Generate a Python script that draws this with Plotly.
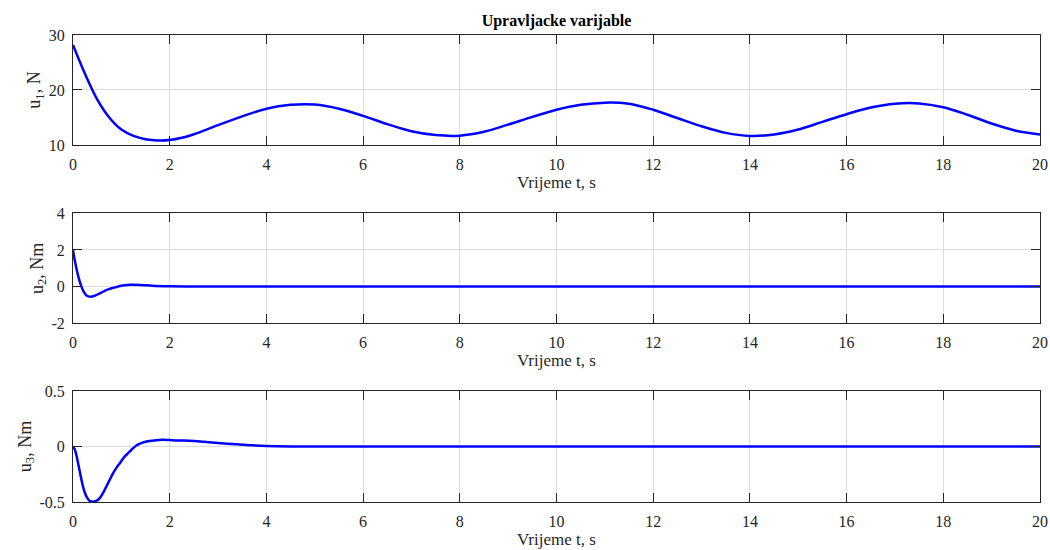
import plotly.graph_objects as go
from plotly.subplots import make_subplots

# ---- data ----
t_u1 = [0, 0.25, 0.5, 0.75, 1.0, 1.25, 1.5, 1.75, 2.0, 2.25, 2.5, 2.75, 3.0, 3.5, 4.0,
        4.5, 5.0, 5.5, 6.0, 6.5, 7.0, 7.5, 8.0, 8.5, 9.0, 9.5, 10.0, 10.5, 11.0, 11.5, 12.0, 12.5,
        13.0, 13.5, 14.0, 14.5, 15.0, 15.5, 16.0, 16.5, 17.0, 17.5, 18.0, 18.5, 19.0, 19.5, 20.0]
u1 = [28.2, 22.9, 18.3, 15.0, 12.8, 11.65, 11.05, 10.82, 10.9, 11.3, 11.95, 12.75, 13.6,
      15.2, 16.6, 17.3, 17.35, 16.6, 15.3, 13.8, 12.5, 11.8, 11.7, 12.4, 13.7, 15.1, 16.4,
      17.3, 17.7, 17.5, 16.4, 14.9, 13.4, 12.2, 11.65, 11.9, 12.8, 14.2, 15.6, 16.8, 17.5, 17.55,
      16.85, 15.5, 13.9, 12.6, 11.9]

t_u2 = [0, 0.035, 0.07, 0.105, 0.14, 0.175, 0.21, 0.245, 0.28, 0.32, 0.36, 0.45, 0.53, 0.62,
        0.7, 0.8, 0.9, 0.97, 1.07, 1.17, 1.4, 1.64, 2.0, 2.5, 3.0, 5.0, 10.0, 15.0, 20.0]
u2 = [2.0, 1.45, 1.0, 0.6, 0.27, 0.0, -0.22, -0.38, -0.48, -0.53, -0.55, -0.5, -0.4, -0.28,
      -0.18, -0.09, -0.02, 0.03, 0.08, 0.1, 0.09, 0.05, 0.02, 0.005, 0.0, 0.0, 0.0, 0.0, 0.0]

t_u3 = [0, 0.035, 0.07, 0.105, 0.14, 0.19, 0.24, 0.29, 0.34, 0.41, 0.48, 0.55, 0.62, 0.69, 0.76,
        0.83, 0.9, 0.97, 1.05, 1.14, 1.22, 1.31, 1.41, 1.52, 1.68, 1.86, 2.0, 2.3, 2.69, 3.0,
        3.38, 3.7, 4.0, 4.5, 5.0, 10.0, 15.0, 20.0]
u3 = [0.0, -0.025, -0.076, -0.15, -0.226, -0.33, -0.41, -0.46, -0.488, -0.497, -0.49, -0.467,
      -0.42, -0.36, -0.30, -0.24, -0.19, -0.15, -0.10, -0.06, -0.025, 0.009, 0.03, 0.045, 0.055,
      0.06, 0.058, 0.053, 0.043, 0.032, 0.02, 0.011, 0.005, 0.001, 0.0, 0.0, 0.0, 0.0]

x_ticks = [0, 2, 4, 6, 8, 10, 12, 14, 16, 18, 20]
y1_ticks = [10, 20, 30]
y2_ticks = [-2, 0, 2, 4]
y3_ticks = [-0.5, 0, 0.5]
y3_labels = ["-0.5", "0", "0.5"]

title = "Upravljacke varijable"
x_label = "Vrijeme t, s"
y_labels = ["u<sub>1</sub>, N", "u<sub>2</sub>, Nm", "u<sub>3</sub>, Nm"]

FONT = "Liberation Serif, Times New Roman, serif"
AX = "#262626"
GRID = "#dcdcdc"

fig = make_subplots(rows=3, cols=1)
for i, (t, u) in enumerate([(t_u1, u1), (t_u2, u2), (t_u3, u3)]):
    fig.add_trace(go.Scatter(x=t, y=u, mode="lines",
                             line=dict(color="#0000ff", width=2.5, shape="spline", smoothing=1.0),
                             showlegend=False), row=i + 1, col=1)

domains = [[0.7645, 1.0], [0.3827, 0.6182], [0.0, 0.2377]]
yranges = [[10, 30], [-2, 4], [-0.5, 0.5]]
yticks = [y1_ticks, y2_ticks, y3_ticks]
ytext = [[str(v) for v in y1_ticks], [str(v) for v in y2_ticks], y3_labels]

common = dict(showline=True, linecolor=AX, linewidth=1, mirror="ticks",
              ticks="inside", ticklen=9, tickwidth=1, tickcolor=AX,
              showgrid=True, gridcolor=GRID, gridwidth=1, zeroline=False,
              automargin=False,
              tickfont=dict(family=FONT, size=16, color=AX))

for i in range(3):
    fig.update_xaxes(range=[0, 20], tickvals=x_ticks, ticktext=[str(v) for v in x_ticks],
                     title=dict(text=x_label, font=dict(family=FONT, size=17, color=AX), standoff=3),
                     ticklabelstandoff=5,
                     **common, row=i + 1, col=1)
    fig.update_yaxes(range=yranges[i], tickvals=yticks[i], ticktext=ytext[i], domain=domains[i],
                     title=dict(text=y_labels[i], font=dict(family=FONT, size=18, color=AX), standoff=3),
                     ticklabelstandoff=4,
                     **common, row=i + 1, col=1)

fig.update_layout(
    width=1050, height=550,
    margin=dict(l=73, r=10, t=35, b=48),
    paper_bgcolor="white", plot_bgcolor="white",
    title=dict(text="<b>" + title + "</b>", x=0.5, xref="paper", xanchor="center",
               y=0.9635, yanchor="middle",
               font=dict(family=FONT, size=16, color="#000000")),
)

# remove the browser's default 8px body margin so the figure fills the window exactly
fig.write_html("out.html",
               config={"displayModeBar": False},
               post_script="document.body.style.margin='0';document.body.style.overflow='hidden';")
